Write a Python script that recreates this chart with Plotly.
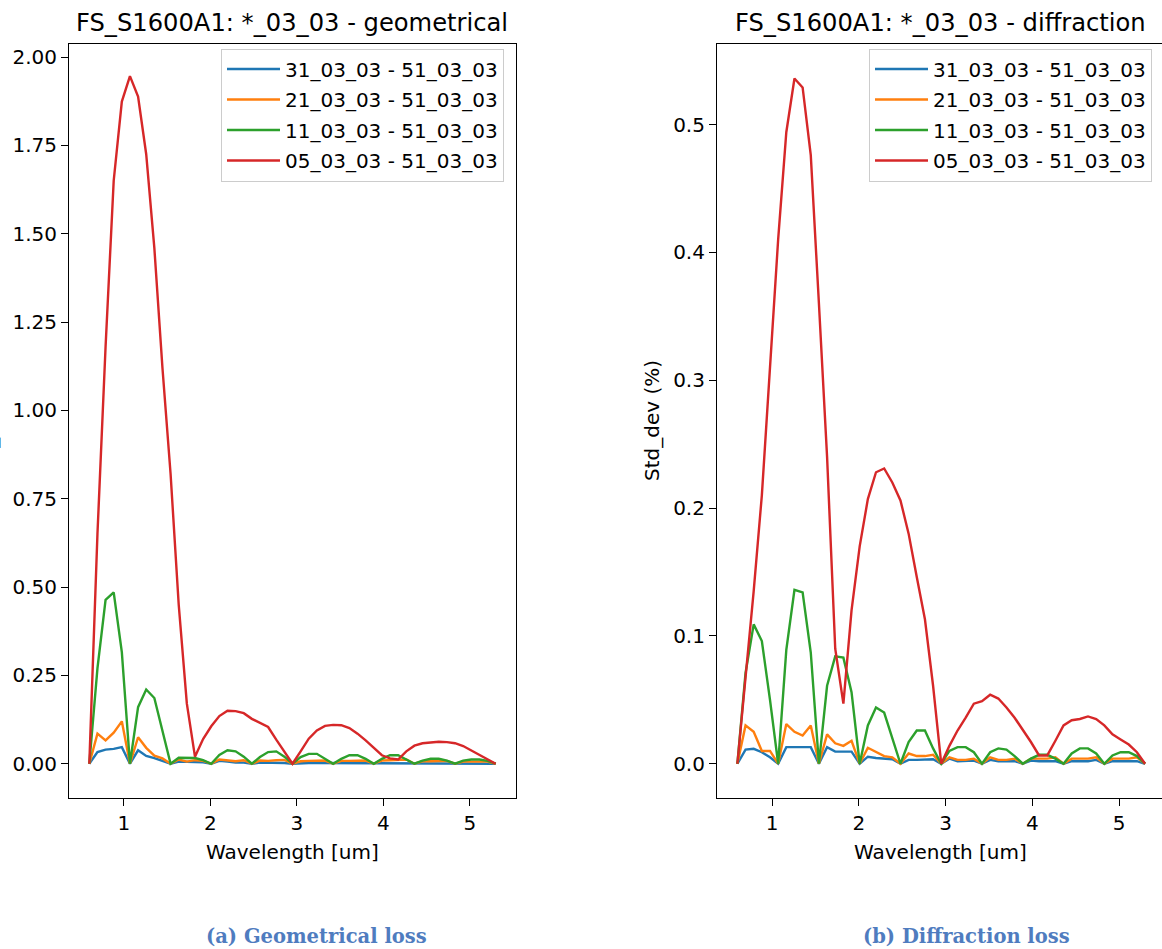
import plotly.graph_objects as go

# Wavelength grid [um]
wavelength = [0.600, 0.694, 0.788, 0.882, 0.976, 1.070, 1.164, 1.258, 1.352, 1.446,
              1.540, 1.634, 1.728, 1.822, 1.916, 2.010, 2.104, 2.198, 2.292, 2.386,
              2.480, 2.574, 2.668, 2.762, 2.856, 2.950, 3.044, 3.138, 3.232, 3.326,
              3.420, 3.514, 3.608, 3.702, 3.796, 3.890, 3.984, 4.078, 4.172, 4.266,
              4.360, 4.454, 4.548, 4.642, 4.736, 4.830, 4.924, 5.018, 5.112, 5.206,
              5.300]

series_names = ["31_03_03 - 51_03_03", "21_03_03 - 51_03_03",
                "11_03_03 - 51_03_03", "05_03_03 - 51_03_03"]
series_colors = ["#1f77b4", "#ff7f0e", "#2ca02c", "#d62728"]

# Geometrical loss: standard deviation (%)
geo_31 = [0, 0.033, 0.040, 0.042, 0.047, 0, 0.038, 0.022, 0.016, 0.009,
          0, 0.006, 0.005, 0.004, 0.004, 0, 0.008, 0.006, 0.003, 0.003,
          0, 0.003, 0.003, 0.002, 0.002, 0, 0.002, 0.002, 0.002, 0.002,
          0, 0.002, 0.002, 0.002, 0.002, 0, 0.002, 0.002, 0.002, 0.002,
          0, 0.002, 0.002, 0.002, 0.001, 0, 0.001, 0.001, 0.001, 0.001,
          0]
geo_21 = [0, 0.085, 0.066, 0.088, 0.120, 0, 0.075, 0.045, 0.023, 0.015,
          0, 0.012, 0.006, 0.010, 0.008, 0, 0.012, 0.009, 0.007, 0.010,
          0, 0.009, 0.008, 0.010, 0.011, 0, 0.007, 0.008, 0.008, 0.009,
          0, 0.008, 0.008, 0.009, 0.009, 0, 0.009, 0.010, 0.012, 0.012,
          0, 0.007, 0.007, 0.008, 0.008, 0, 0.006, 0.006, 0.006, 0.006,
          0]
geo_11 = [0, 0.270, 0.464, 0.485, 0.316, 0, 0.160, 0.210, 0.186, 0.095,
          0, 0.017, 0.017, 0.016, 0.010, 0, 0.025, 0.038, 0.035, 0.020,
          0, 0.019, 0.033, 0.035, 0.020, 0, 0.019, 0.028, 0.028, 0.014,
          0, 0.014, 0.024, 0.024, 0.014, 0, 0.014, 0.024, 0.024, 0.012,
          0, 0.009, 0.014, 0.014, 0.009, 0, 0.009, 0.012, 0.012, 0.008,
          0]
geo_05 = [0, 0.650, 1.180, 1.650, 1.874, 1.946, 1.888, 1.725, 1.460, 1.120,
          0.820, 0.450, 0.170, 0.020, 0.070, 0.106, 0.135, 0.150, 0.149, 0.143,
          0.127, 0.116, 0.104, 0.068, 0.034, 0, 0.035, 0.071, 0.094, 0.107,
          0.110, 0.109, 0.101, 0.085, 0.066, 0.046, 0.024, 0.015, 0.012, 0.035,
          0.051, 0.058, 0.061, 0.062, 0.061, 0.058, 0.050, 0.038, 0.025, 0.012,
          0]

# Diffraction loss: standard deviation (%)
dif_31 = [0, 0.011, 0.0117, 0.009, 0.005, 0, 0.013, 0.013, 0.0125, 0.013,
          0, 0.013, 0.0095, 0.0095, 0.0095, 0, 0.0055, 0.0045, 0.004, 0.0035,
          0, 0.003, 0.003, 0.003, 0.0035, 0, 0.004, 0.002, 0.002, 0.0025,
          0, 0.003, 0.002, 0.002, 0.002, 0, 0.0025, 0.002, 0.002, 0.002,
          0, 0.002, 0.002, 0.002, 0.003, 0, 0.002, 0.002, 0.002, 0.002,
          0]
dif_21 = [0, 0.030, 0.025, 0.010, 0.010, 0, 0.031, 0.025, 0.022, 0.030,
          0, 0.023, 0.016, 0.014, 0.018, 0, 0.0125, 0.009, 0.006, 0.005,
          0, 0.008, 0.006, 0.006, 0.007, 0, 0.005, 0.003, 0.003, 0.004,
          0, 0.005, 0.003, 0.003, 0.004, 0, 0.004, 0.004, 0.004, 0.005,
          0, 0.004, 0.004, 0.004, 0.005, 0, 0.004, 0.004, 0.004, 0.005,
          0]
dif_11 = [0, 0.071, 0.109, 0.096, 0.050, 0, 0.089, 0.136, 0.134, 0.087,
          0, 0.061, 0.084, 0.083, 0.056, 0, 0.030, 0.044, 0.040, 0.019,
          0, 0.017, 0.026, 0.026, 0.012, 0, 0.010, 0.013, 0.013, 0.009,
          0, 0.009, 0.012, 0.011, 0.006, 0, 0.004, 0.007, 0.007, 0.004,
          0, 0.008, 0.012, 0.012, 0.008, 0, 0.0065, 0.009, 0.009, 0.006,
          0]
dif_05 = [0, 0.065, 0.135, 0.210, 0.310, 0.410, 0.494, 0.536, 0.529, 0.476,
          0.360, 0.240, 0.090, 0.047, 0.120, 0.170, 0.207, 0.228, 0.231, 0.220,
          0.206, 0.180, 0.146, 0.113, 0.061, 0, 0.014, 0.026, 0.036, 0.047,
          0.049, 0.054, 0.051, 0.044, 0.036, 0.027, 0.017, 0.0065, 0.0065, 0.018,
          0.030, 0.034, 0.035, 0.037, 0.035, 0.030, 0.023, 0.019, 0.015, 0.009,
          0]

geo_series = [geo_31, geo_21, geo_11, geo_05]
dif_series = [dif_31, dif_21, dif_11, dif_05]

W, H = 1162, 949
FONT = "DejaVu Sans"
LINE_W = 2.4


def px_x(v):
    return v / W


def px_y(v):
    return 1 - v / H


fig = go.Figure()

for k, (name, color, ys) in enumerate(zip(series_names, series_colors, geo_series)):
    fig.add_trace(go.Scatter(x=wavelength, y=ys, mode="lines", name=name,
                             line=dict(color=color, width=LINE_W),
                             legendgroup="geo%d" % k,
                             xaxis="x", yaxis="y", legend="legend"))
for k, (name, color, ys) in enumerate(zip(series_names, series_colors, dif_series)):
    fig.add_trace(go.Scatter(x=wavelength, y=ys, mode="lines", name=name,
                             line=dict(color=color, width=LINE_W),
                             legendgroup="dif%d" % k,
                             xaxis="x2", yaxis="y2", legend="legend2"))

axis_common = dict(showline=True, mirror=True, linecolor="black", linewidth=1.1,
                   showgrid=False, zeroline=False, ticks="outside", ticklen=7,
                   tickwidth=1.1, tickcolor="black",
                   tickfont=dict(family=FONT, size=20, color="black"))

ydom = [px_y(798), px_y(44)]

legend_common = dict(bgcolor="rgba(255,255,255,0.8)", bordercolor="#cccccc",
                     borderwidth=1, font=dict(family=FONT, size=20, color="black"),
                     xanchor="left", yanchor="top", tracegroupgap=1.5,
                     itemwidth=53)

fig.update_layout(
    width=W, height=H,
    margin=dict(l=0, r=0, t=0, b=0),
    paper_bgcolor="white", plot_bgcolor="white",
    xaxis=dict(domain=[px_x(69), px_x(516)], range=[0.365, 5.535],
               tickvals=[1, 2, 3, 4, 5], anchor="y", **axis_common),
    yaxis=dict(domain=ydom, range=[-0.097, 2.037],
               tickvals=[0, 0.25, 0.5, 0.75, 1.0, 1.25, 1.5, 1.75, 2.0],
               tickformat=".2f", anchor="x", **axis_common),
    xaxis2=dict(domain=[px_x(717), 1.0], range=[0.365, 5.495],
                tickvals=[1, 2, 3, 4, 5], anchor="y2", **axis_common),
    yaxis2=dict(domain=ydom, range=[-0.0268, 0.563],
                tickvals=[0, 0.1, 0.2, 0.3, 0.4, 0.5],
                tickformat=".1f", anchor="x2", **axis_common),
    legend=dict(x=px_x(221), y=px_y(48.5), **legend_common),
    legend2=dict(x=px_x(869), y=px_y(48.5), **legend_common),
    showlegend=True,
)

annotations = [
    dict(text="FS_S1600A1: *_03_03 - geometrical", x=px_x(292.5), y=px_y(23)),
    dict(text="FS_S1600A1: *_03_03 - diffraction", x=px_x(941), y=px_y(23)),
]
for a in annotations:
    a.update(xref="paper", yref="paper", xanchor="center", yanchor="middle",
             showarrow=False, font=dict(family=FONT, size=24.2, color="black"))

for cx in (292.5, 941):
    annotations.append(dict(text="Wavelength [um]", x=px_x(cx), y=px_y(852),
                            xref="paper", yref="paper", xanchor="center",
                            yanchor="middle", showarrow=False,
                            font=dict(family=FONT, size=20, color="black")))

for cx in (-11, 652):
    annotations.append(dict(text="Std_dev (%)", x=px_x(cx), y=px_y(421),
                            xref="paper", yref="paper", xanchor="center",
                            yanchor="middle", textangle=-90, showarrow=False,
                            font=dict(family=FONT, size=20, color="black")))

for text, cx in (("(a) Geometrical loss", 316.5), ("(b) Diffraction loss", 966)):
    annotations.append(dict(text="<b>" + text + "</b>", x=px_x(cx), y=px_y(936),
                            xref="paper", yref="paper", xanchor="center",
                            yanchor="middle", showarrow=False,
                            font=dict(family="DejaVu Serif", size=19.5,
                                      color="#4f7cbf")))

fig.update_layout(annotations=annotations)

fig.write_html("out.html")
